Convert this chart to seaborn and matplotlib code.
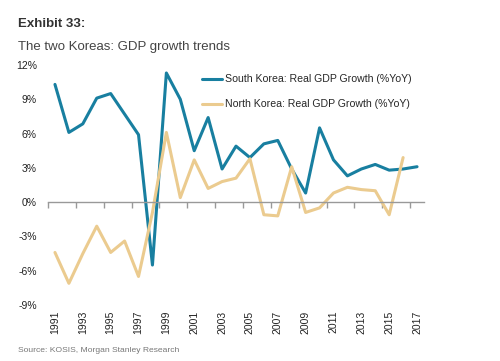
import numpy as np
import pandas as pd
import matplotlib

matplotlib.use("Agg")
import matplotlib.pyplot as plt
import seaborn as sns

# values (% YoY)
years = list(range(1991, 2018))
south = [10.3, 6.1, 6.85, 9.1, 9.5, 7.7, 5.9, -5.5, 11.3, 9.0, 4.5, 7.4, 2.9, 4.9,
         3.9, 5.1, 5.4, 2.9, 0.8, 6.5, 3.7, 2.3, 2.9, 3.3, 2.8, 2.9, 3.1]
north = [-4.4, -7.1, -4.5, -2.1, -4.4, -3.4, -6.5, -0.9, 6.1, 0.4, 3.7, 1.2, 1.8, 2.1,
         3.8, -1.1, -1.2, 3.1, -0.9, -0.5, 0.8, 1.3, 1.1, 1.0, -1.1, 3.9, np.nan]
series_names = ["South Korea: Real GDP Growth (%YoY)", "North Korea: Real GDP Growth (%YoY)"]
yticks = [-9, -6, -3, 0, 3, 6, 9, 12]

df = pd.DataFrame({"year": years * 2,
                   "growth": south + north,
                   "series": [series_names[0]] * len(years) + [series_names[1]] * len(years)})

sns.set_style("white")
plt.rcParams["font.family"] = ["Liberation Sans", "DejaVu Sans"]

fig = plt.figure(figsize=(5, 3.61), dpi=100)
ax = fig.add_axes([0.096, 0.155, 0.752, 0.665])

sns.lineplot(data=df, x="year", y="growth", hue="series", ax=ax,
             palette=["#187fa0", "#ebcb8f"], linewidth=2.2, legend=False)

ax.set_xlim(1990.5, 2017.5)
ax.set_ylim(-9, 12)
ax.set_yticks(yticks)
ax.set_yticklabels([f"{v}%" for v in yticks])
ax.tick_params(axis="y", length=0, pad=8, labelsize=7.5, colors="#222222")
ax.set_xlabel("")
ax.set_ylabel("")

for s in ["top", "right", "left"]:
    ax.spines[s].set_visible(False)
ax.spines["bottom"].set_position(("data", 0))
ax.spines["bottom"].set_color("#999999")
ax.spines["bottom"].set_linewidth(1)
ax.set_xticks(np.arange(1990.5, 2017, 2))
ax.tick_params(axis="x", bottom=True, length=4, width=1, color="#999999",
               direction="out", labelbottom=False)

# year labels along the bottom of the plot
sec = ax.secondary_xaxis(0)
sec.set_xticks(years[::2])
sec.set_xticklabels([str(y) for y in years[::2]], rotation=90)
sec.tick_params(length=0, pad=4, labelsize=7.5, colors="#222222")
sec.spines["bottom"].set_visible(False)

handles = [plt.Line2D([], [], color="#187fa0", lw=2.2),
           plt.Line2D([], [], color="#ebcb8f", lw=2.2)]
fig.legend(handles, series_names, loc="upper left", bbox_to_anchor=(0.385, 0.82),
           frameon=False, fontsize=7.6, handlelength=1.9, handletextpad=0.3,
           labelspacing=1.4)

fig.text(0.036, 0.925, "Exhibit 33:", fontsize=9.5, fontweight="bold", color="#333333")
fig.text(0.036, 0.862, "The two Koreas: GDP growth trends", fontsize=9.5, color="#444444")
fig.text(0.036, 0.025, "Source: KOSIS, Morgan Stanley Research", fontsize=6.1, color="#777777")

fig.savefig("out.png", dpi=100)
